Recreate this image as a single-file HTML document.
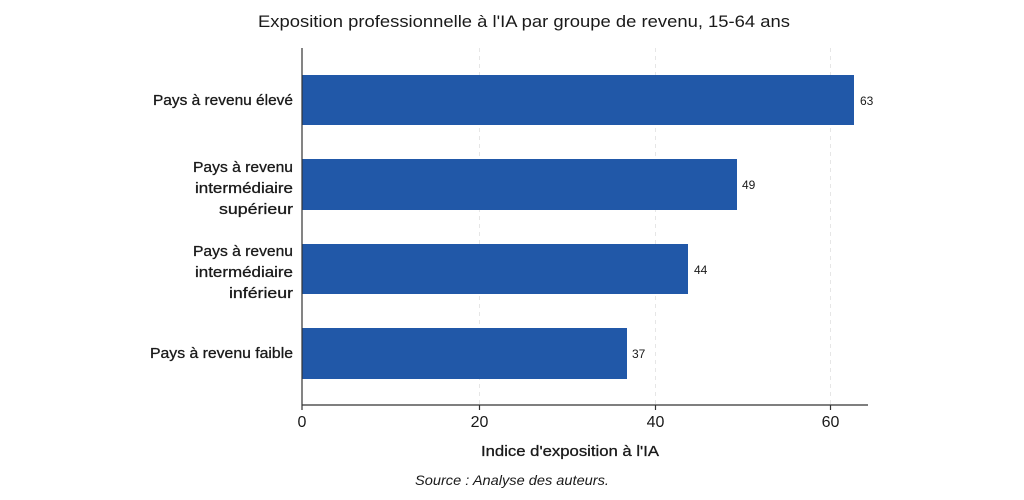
<!DOCTYPE html>
<html><head><meta charset="utf-8"><style>
body{margin:0;background:#fff;width:1024px;height:500px;overflow:hidden}
svg{display:block}
text{font-family:"Liberation Sans",sans-serif;fill:#1a1a1a}
</style></head><body>
<svg width="1024" height="500" viewBox="0 0 1024 500">
<text x="524" y="27" text-anchor="middle" font-size="17" textLength="532" lengthAdjust="spacingAndGlyphs">Exposition professionnelle à l'IA par groupe de revenu, 15-64 ans</text>
<g stroke="#e6e6e6" stroke-dasharray="4,4" stroke-width="1">
<line x1="479.5" y1="48" x2="479.5" y2="405"/>
<line x1="655.5" y1="48" x2="655.5" y2="405"/>
<line x1="830.5" y1="48" x2="830.5" y2="405"/>
</g>
<g fill="#2158a8">
<rect x="302" y="75" width="552" height="50"/>
<rect x="302" y="159" width="435" height="51"/>
<rect x="302" y="244" width="386" height="50"/>
<rect x="302" y="328" width="325" height="51"/>
</g>
<g stroke="#333" stroke-width="1.2">
<line x1="302" y1="48" x2="302" y2="410"/>
<line x1="302" y1="405" x2="868" y2="405"/>
<line x1="479.5" y1="405" x2="479.5" y2="410"/>
<line x1="655.5" y1="405" x2="655.5" y2="410"/>
<line x1="830.5" y1="405" x2="830.5" y2="410"/>
</g>
<g font-size="12">
<text x="860" y="105">63</text>
<text x="742" y="189">49</text>
<text x="694" y="274">44</text>
<text x="632" y="358">37</text>
</g>
<g font-size="16" text-anchor="middle">
<text x="302" y="427">0</text>
<text x="479.5" y="427">20</text>
<text x="655.5" y="427">40</text>
<text x="830.5" y="427">60</text>
</g>
<g font-size="15" text-anchor="end" stroke="#1a1a1a" stroke-width="0.3">
<text x="293" y="105" textLength="140" lengthAdjust="spacingAndGlyphs">Pays à revenu élevé</text>
<text x="293" y="172" textLength="100" lengthAdjust="spacingAndGlyphs">Pays à revenu</text>
<text x="293" y="193" textLength="98" lengthAdjust="spacingAndGlyphs">intermédiaire</text>
<text x="293" y="214" textLength="74" lengthAdjust="spacingAndGlyphs">supérieur</text>
<text x="293" y="256" textLength="100" lengthAdjust="spacingAndGlyphs">Pays à revenu</text>
<text x="293" y="277" textLength="98" lengthAdjust="spacingAndGlyphs">intermédiaire</text>
<text x="293" y="298" textLength="64" lengthAdjust="spacingAndGlyphs">inférieur</text>
<text x="293" y="358" textLength="143" lengthAdjust="spacingAndGlyphs">Pays à revenu faible</text>
</g>
<text x="570" y="456" text-anchor="middle" font-size="15" stroke="#1a1a1a" stroke-width="0.3" textLength="178" lengthAdjust="spacingAndGlyphs">Indice d'exposition à l'IA</text>
<text x="512" y="485" text-anchor="middle" font-size="14" font-style="italic" fill="#444" textLength="194" lengthAdjust="spacingAndGlyphs">Source : Analyse des auteurs.</text>
</svg>
</body></html>
